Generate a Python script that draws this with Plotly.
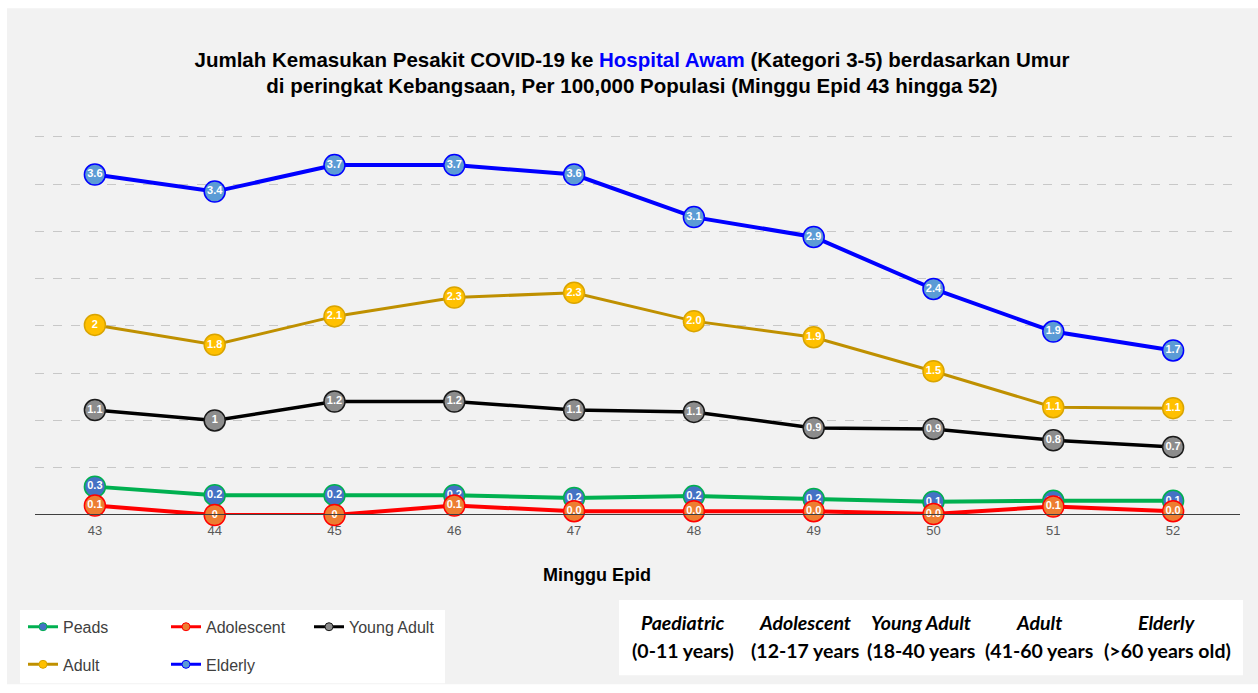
import plotly.graph_objects as go

# ---------------- data ----------------
weeks = [43, 44, 45, 46, 47, 48, 49, 50, 51, 52]
week_labels = ["43", "44", "45", "46", "47", "48", "49", "50", "51", "52"]

peads = [0.30, 0.21, 0.21, 0.21, 0.18, 0.20, 0.17, 0.14, 0.15, 0.15]
peads_lbl = ["0.3", "0.2", "0.2", "0.2", "0.2", "0.2", "0.2", "0.1", "0.1", "0.1"]

adolescent = [0.10, 0.00, 0.00, 0.10, 0.04, 0.04, 0.04, 0.01, 0.09, 0.04]
adolescent_lbl = ["0.1", "0", "0", "0.1", "0.0", "0.0", "0.0", "0.0", "0.1", "0.0"]

young_adult = [1.11, 1.00, 1.20, 1.20, 1.11, 1.09, 0.92, 0.91, 0.79, 0.72]
young_adult_lbl = ["1.1", "1", "1.2", "1.2", "1.1", "1.1", "0.9", "0.9", "0.8", "0.7"]

adult = [2.01, 1.80, 2.10, 2.30, 2.35, 2.05, 1.88, 1.52, 1.14, 1.13]
adult_lbl = ["2", "1.8", "2.1", "2.3", "2.3", "2.0", "1.9", "1.5", "1.1", "1.1"]

elderly = [3.60, 3.42, 3.70, 3.70, 3.60, 3.15, 2.94, 2.39, 1.94, 1.74]
elderly_lbl = ["3.6", "3.4", "3.7", "3.7", "3.6", "3.1", "2.9", "2.4", "1.9", "1.7"]

age_groups = ["Paediatric", "Adolescent", "Young Adult", "Adult", "Elderly"]
age_ranges = ["(0-11 years)", "(12-17 years", "(18-40 years", "(41-60 years", "(>60 years old)"]

# ---------------- geometry helpers ----------------
W, H = 1258, 693
L, R, T, B = 35, 25, 132, 174
PW, PH = W - L - R, H - T - B


def px(xr):
    """picture x pixel -> paper x"""
    return (xr - L) / PW


def py(yr):
    """picture y pixel -> paper y"""
    return (H - B - yr) / PH


series = [
    ("Peads", peads, peads_lbl, "#00b050", "#4472c4", "#00b050", 4),
    ("Adolescent", adolescent, adolescent_lbl, "#ff0000", "#ed7d31", "#ff0000", 4),
    ("Young Adult", young_adult, young_adult_lbl, "#000000", "#8c8c8c", "#1a1a1a", 3.5),
    ("Adult", adult, adult_lbl, "#bf9000", "#ffc000", "#d9a400", 3),
    ("Elderly", elderly, elderly_lbl, "#0000ff", "#5b9bd5", "#0000ff", 4),
]

fig = go.Figure()

for name, vals, lbls, lc, fc, oc, lw in series:
    fig.add_trace(go.Scatter(
        x=weeks, y=vals, text=lbls, mode="lines+markers+text",
        textposition="middle center",
        textfont=dict(family="Liberation Sans Narrow, Arial Narrow, Liberation Sans", size=11, color="white"),
        texttemplate="<b>%{text}</b>",
        line=dict(color=lc, width=lw),
        marker=dict(size=21, color=fc, line=dict(color=oc, width=1.5)),
        showlegend=False, hoverinfo="skip", cliponaxis=False,
    ))

# legend entries (two rows, as in the reference)
for i, (name, vals, lbls, lc, fc, oc, lw) in enumerate(series):
    fig.add_trace(go.Scatter(
        x=[None], y=[None], mode="lines+markers", name=name,
        line=dict(color=lc, width=3),
        marker=dict(size=8, color=fc, line=dict(color=oc, width=1)),
        legend="legend" if i < 3 else "legend2",
    ))

shapes = [
    dict(type="rect", xref="paper", yref="paper", x0=px(7), x1=px(1258), y0=py(690), y1=py(7),
         fillcolor="#f2f2f2", line=dict(width=0), layer="below"),
    dict(type="rect", xref="paper", yref="paper", x0=px(20), x1=px(445), y0=py(689), y1=py(615),
         fillcolor="white", line=dict(width=0), layer="below"),
    dict(type="rect", xref="paper", yref="paper", x0=px(619), x1=px(1243), y0=py(681), y1=py(605),
         fillcolor="white", line=dict(width=0), layer="below"),
    dict(type="line", xref="paper", yref="y", x0=px(35), x1=px(1240), y0=0, y1=0,
         line=dict(color="#404040", width=2)),
]

annotations = [
    dict(text="<b>Minggu Epid</b>", x=px(597), y=py(580), xref="paper", yref="paper",
         showarrow=False, xanchor="center", yanchor="middle",
         font=dict(family="Liberation Sans, Arial", size=18, color="black")),
]

col_x = [683, 805, 921, 1039, 1167]
box_font = dict(family="Lato, Carlito, Liberation Sans", size=19.5, color="black", weight="bold")
for g, r, cx in zip(age_groups, age_ranges, col_x):
    annotations.append(dict(text=f"<i>{g}</i>", x=px(cx), y=py(628), xref="paper", yref="paper",
                            showarrow=False, xanchor="center", yanchor="middle", font=box_font))
    annotations.append(dict(text=r, x=px(cx), y=py(656), xref="paper", yref="paper",
                            showarrow=False, xanchor="center", yanchor="middle", font=box_font))

title_text = ("<b>Jumlah Kemasukan Pesakit COVID-19 ke <span style='color:#0000ff'>Hospital Awam</span> "
              "(Kategori 3-5) berdasarkan Umur<br>di peringkat Kebangsaan, Per 100,000 Populasi "
              "(Minggu Epid 43 hingga 52)</b>")

leg_common = dict(orientation="h", bgcolor="rgba(0,0,0,0)", entrywidth=98, entrywidthmode="pixels",
                  font=dict(family="Liberation Sans, Arial", size=16, color="#404040"),
                  xanchor="left", yanchor="middle", itemclick=False, itemdoubleclick=False)

fig.update_layout(
    width=W, height=H, autosize=False,
    margin=dict(l=L, r=R, t=T, b=B),
    paper_bgcolor="white", plot_bgcolor="rgba(0,0,0,0)",
    title=dict(text=title_text, x=632 / W, xanchor="center", y=1 - 66.5 / H, yanchor="middle",
               yref="container", font=dict(family="Liberation Sans, Arial", size=20.5, color="black")),
    xaxis=dict(range=[42.5, 52.5], tickmode="array", tickvals=weeks, ticktext=week_labels,
               showgrid=False, zeroline=False, showline=False, ticks="", ticklabelstandoff=6,
               tickfont=dict(family="Liberation Sans, Arial", size=13, color="#595959")),
    yaxis=dict(range=[0, 4.05], dtick=0.5, tick0=0, showticklabels=False, zeroline=False,
               showgrid=True, gridcolor="#c8c8c8", griddash="dash", gridwidth=1),
    legend=dict(x=px(23), y=py(632), **leg_common),
    legend2=dict(x=px(23), y=py(670), **leg_common),
    shapes=shapes, annotations=annotations,
)

# let the figure fill the window exactly (no default page margin), no toolbar
fig.write_html("out.html", config={"displayModeBar": False},
               post_script="document.body.style.margin='0';document.body.style.overflow='hidden';")
